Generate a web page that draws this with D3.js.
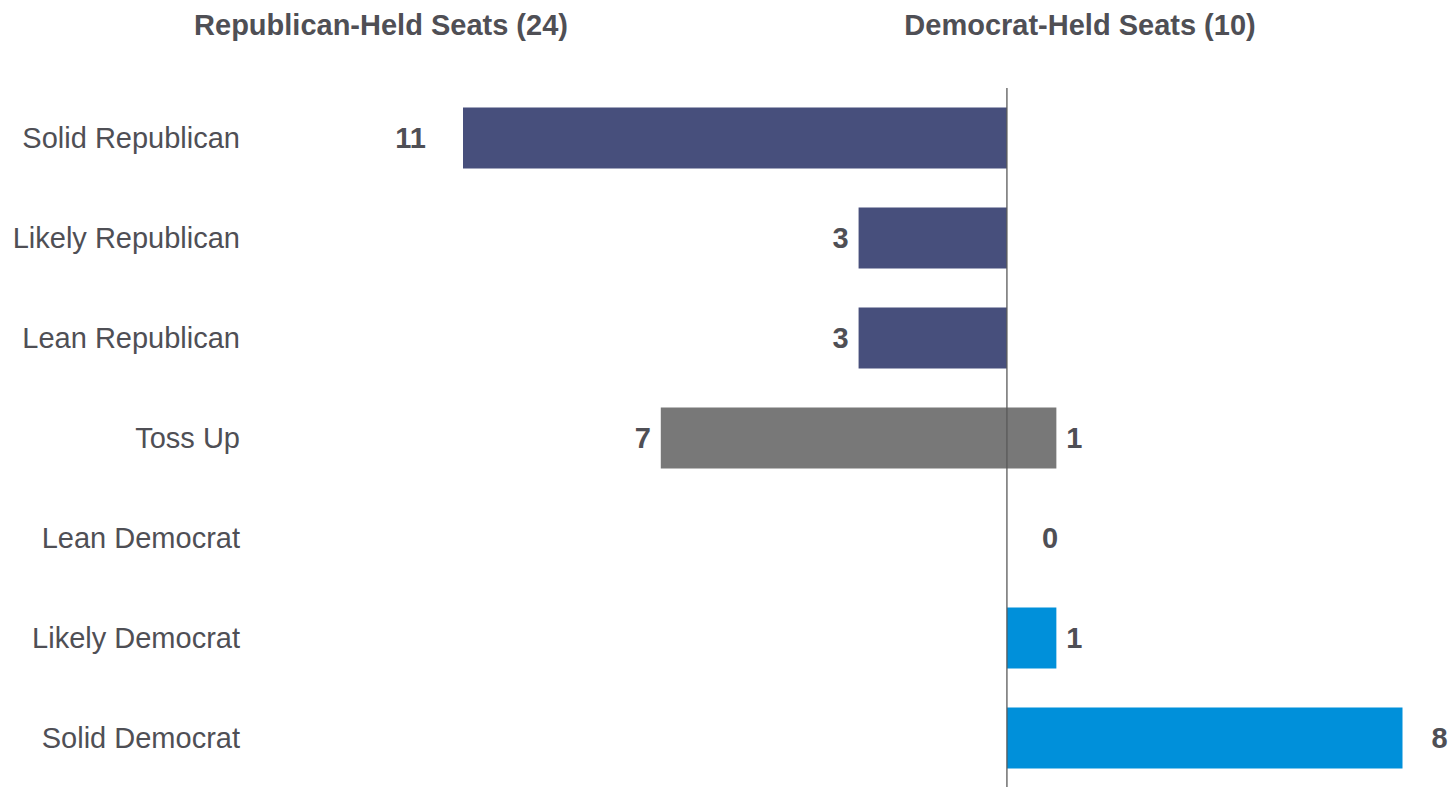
<!DOCTYPE html>
<html>
<head>
<meta charset="utf-8">
<script src="https://cdn.jsdelivr.net/npm/d3@7"></script>
<style>
  body { margin: 0; background: #fff; }
  text { font-family: "Liberation Sans", Arial, Helvetica, sans-serif; fill: #4f4f55; }
</style>
</head>
<body>
<div id="chart"></div>
<script>
var categories = ['Solid Republican', 'Likely Republican', 'Lean Republican', 'Toss Up',
                  'Lean Democrat', 'Likely Democrat', 'Solid Democrat'];
var repSeats = [11, 3, 3, 7, null, null, null];
var demSeats = [null, null, null, 1, 0, 1, 8];
var barGroup = ['rep', 'rep', 'rep', 'toss', 'dem', 'dem', 'dem'];
var titles = ['Republican-Held Seats (24)', 'Democrat-Held Seats (10)'];

var colors = { rep: '#474f7c', toss: '#787878', dem: '#0090da' };

var width = 1453, height = 787;

var svg = d3.select('#chart').append('svg')
  .attr('width', width)
  .attr('height', height);

var xScale = d3.scaleLinear()
  .domain([-11, 8])
  .range([463, 1402.5]);

var yScale = d3.scaleBand()
  .domain(categories)
  .range([88, 788])
  .paddingInner(0.39)
  .paddingOuter(0.195);

// one bar per row, from -rep to +dem
var rows = categories.map(function(c, i) {
  return { cat: c, rep: repSeats[i], dem: demSeats[i], group: barGroup[i] };
});

svg.selectAll('rect.bar').data(rows)
  .enter().append('rect')
  .attr('class', 'bar')
  .attr('x', function(d) { return xScale(-(d.rep || 0)); })
  .attr('width', function(d) { return xScale(d.dem || 0) - xScale(-(d.rep || 0)); })
  .attr('y', function(d) { return yScale(d.cat); })
  .attr('height', yScale.bandwidth())
  .style('fill', function(d) { return colors[d.group]; });

// centre line
svg.append('line')
  .attr('x1', xScale(0)).attr('x2', xScale(0))
  .attr('y1', 88).attr('y2', height)
  .style('stroke', '#595959')
  .style('stroke-width', 1.3);

// category labels
svg.selectAll('text.cat').data(categories)
  .enter().append('text')
  .attr('class', 'cat')
  .attr('x', 240)
  .attr('y', function(d) { return yScale(d) + yScale.bandwidth() / 2; })
  .attr('dy', '0.35em')
  .attr('text-anchor', 'end')
  .style('font-size', '29px')
  .text(function(d) { return d; });

// value labels
function gap(d, side) {
  if (d.cat.indexOf('Solid') === 0) return side === 'rep' ? 37 : 29;
  if (side === 'dem' && d.dem === 0) return 35;
  return 10;
}

svg.selectAll('text.rep').data(rows.filter(function(d) { return d.rep != null; }))
  .enter().append('text')
  .attr('class', 'rep')
  .attr('x', function(d) { return xScale(-d.rep) - gap(d, 'rep'); })
  .attr('y', function(d) { return yScale(d.cat) + yScale.bandwidth() / 2; })
  .attr('dy', '0.35em')
  .attr('text-anchor', 'end')
  .style('font-size', '29px')
  .style('font-weight', 'bold')
  .text(function(d) { return d.rep; });

svg.selectAll('text.dem').data(rows.filter(function(d) { return d.dem != null; }))
  .enter().append('text')
  .attr('class', 'dem')
  .attr('x', function(d) { return xScale(d.dem) + gap(d, 'dem'); })
  .attr('y', function(d) { return yScale(d.cat) + yScale.bandwidth() / 2; })
  .attr('dy', '0.35em')
  .attr('text-anchor', 'start')
  .style('font-size', '29px')
  .style('font-weight', 'bold')
  .text(function(d) { return d.dem; });

// column titles
svg.selectAll('text.title').data(titles)
  .enter().append('text')
  .attr('class', 'title')
  .attr('x', function(d, i) { return i === 0 ? 381 : 1080; })
  .attr('y', 35)
  .attr('text-anchor', 'middle')
  .style('font-size', '29px')
  .style('font-weight', 'bold')
  .text(function(d) { return d; });
</script>
</body>
</html>
